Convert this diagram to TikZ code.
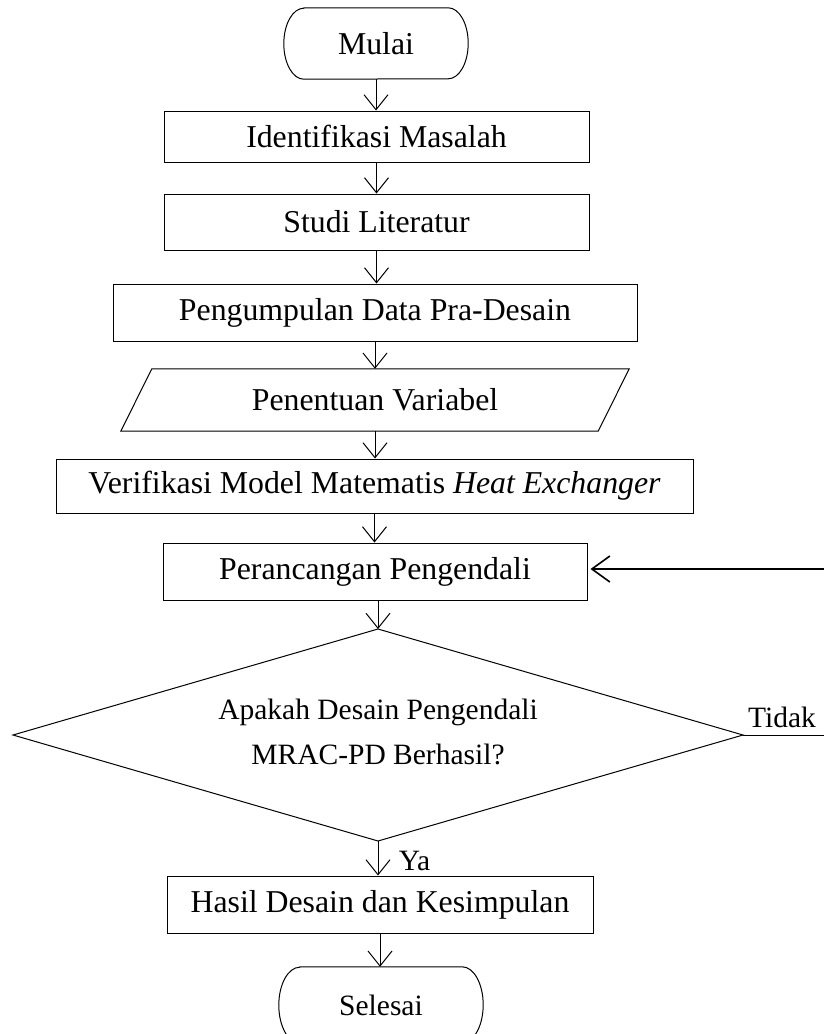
\documentclass[tikz,border=0pt]{standalone}
\usepackage{fontspec}
\setmainfont{Liberation Serif}
\usetikzlibrary{arrows.meta}
\tikzset{
  bigtext/.style={font=\fontsize{31.8pt}{38pt}\selectfont},
  smalltext/.style={font=\fontsize{29.5pt}{45pt}\selectfont},
  box/.style={draw, line width=1pt, inner sep=0pt, bigtext},
  bare/.style={inner sep=0pt},
  outline/.style={line width=1pt},
  arr/.style={line width=1pt, -{Straight Barb[length=15pt,width=24pt]}},
  fbarr/.style={line width=1.6pt, -{Straight Barb[length=18pt,width=26pt]}, shorten >=3pt},
  fbline/.style={line width=1pt},
}
\begin{document}
\begin{tikzpicture}[x=1pt,y=1pt]
\fill[white] (0,0) rectangle (824,-1034);
\useasboundingbox (0,0) rectangle (824,-1034);

% Start terminal
\node[bare, bigtext, minimum width=184pt, minimum height=71pt] (start) at (376,-43.5) {Mulai};
\draw[outline] ([xshift=20pt]start.north west) -- ([xshift=-20pt]start.north east)
  arc[start angle=90, end angle=-90, x radius=20pt, y radius=35.5pt]
  -- ([xshift=20pt]start.south west)
  arc[start angle=270, end angle=90, x radius=20pt, y radius=35.5pt] -- cycle;

\node[box, minimum width=425pt, minimum height=51pt] (ident) at (376.5,-136.5) {Identifikasi Masalah};
\node[box, minimum width=425pt, minimum height=56pt] (studi) at (376.5,-222) {Studi Literatur};
\node[box, minimum width=524pt, minimum height=57pt] (data) at (375,-312.5) {Pengumpulan Data Pra-Desain};

% Parallelogram
\node[bare, bigtext, minimum width=508pt, minimum height=62pt] (var) at (375,-400) {Penentuan Variabel};
\draw[outline] ([xshift=31pt]var.north west) -- (var.north east)
  -- ([xshift=-31pt]var.south east) -- (var.south west) -- cycle;

\node[box, minimum width=637pt, minimum height=54pt] (verif) at (374.5,-486) {Verifikasi Model Matematis \textit{Heat Exchanger}};
\node[box, minimum width=424pt, minimum height=57pt] (peranc) at (375,-571.5) {Perancangan Pengendali};

% Decision diamond
\node[bare, smalltext, align=center, minimum width=730pt, minimum height=212pt] (dec) at (378,-732)
  {Apakah Desain Pengendali\\MRAC-PD Berhasil?};
\coordinate (dN) at (378,-629);
\coordinate (dE) at (743,-735);
\coordinate (dS) at (378,-841);
\coordinate (dW) at (13,-735);
\draw[outline] (dN) -- (dE) -- (dS) -- (dW) -- cycle;

\node[box, minimum width=426pt, minimum height=57pt] (hasil) at (380,-904.5) {Hasil Desain dan Kesimpulan};

% End terminal
\node[bare, smalltext, minimum width=204pt, minimum height=76pt] (end) at (381,-1005) {Selesai};
\draw[outline] ([xshift=21pt]end.north west) -- ([xshift=-21pt]end.north east)
  arc[start angle=90, end angle=-90, x radius=21pt, y radius=38pt]
  -- ([xshift=21pt]end.south west)
  arc[start angle=270, end angle=90, x radius=21pt, y radius=38pt] -- cycle;

% Connectors
\draw[arr] (start.south) -- (start.south |- ident.north);
\draw[arr] (ident.south) -- (ident.south |- studi.north);
\draw[arr] (studi.south) -- (studi.south |- data.north);
\draw[arr] (data.south) -- (data.south |- var.north);
\draw[arr] (var.south) -- (var.south |- verif.north);
\draw[arr] (verif.south) -- (verif.south |- peranc.north);
\draw[arr] (dN |- peranc.south) -- (dN);
\draw[arr] (dS) -- (dS |- hasil.north);
\draw[arr] (hasil.south) -- (hasil.south |- end.north);

% Labels
\node[bare, smalltext] (ya) at (414.5,-861) {Ya};
\node[bare, smalltext] (tidak) at (782,-717) {Tidak};

% Feedback loop (right side runs along the page edge)
\coordinate (fbR) at (830,-735);
\coordinate (fbT) at (830,-569);
\draw[fbline] (dE) -- (fbR) -- (fbT);
\draw[fbarr] (fbT) -- (fbT -| peranc.east);
\end{tikzpicture}
\end{document}
